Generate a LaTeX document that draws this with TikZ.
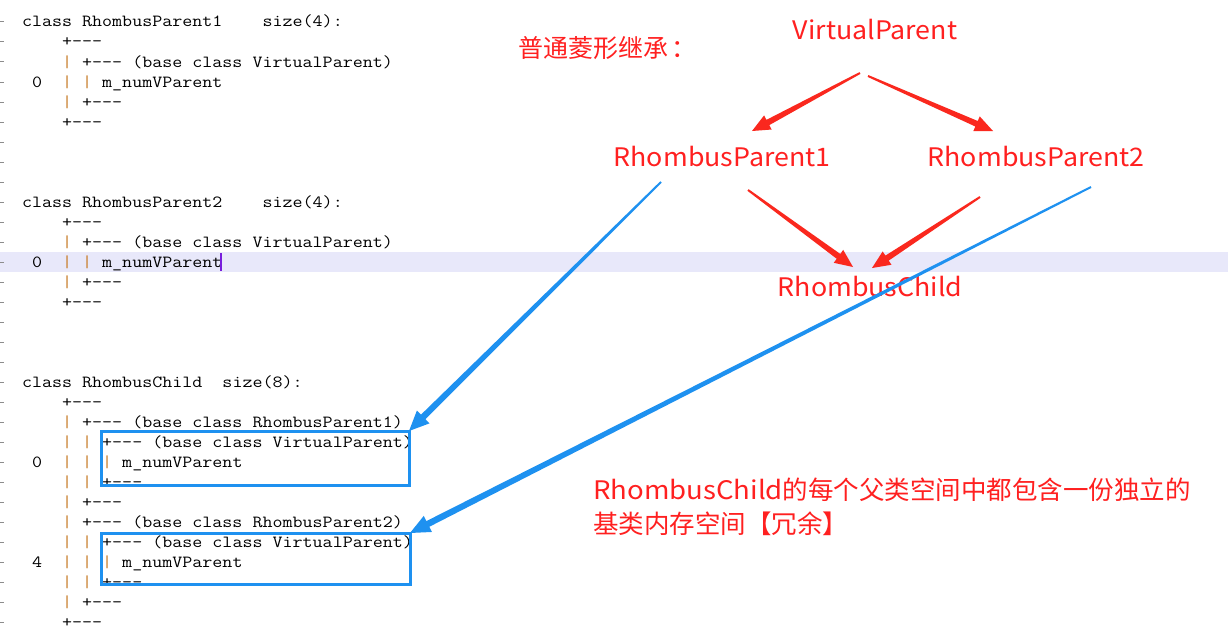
\documentclass[tikz,border=0pt]{standalone}
\usepackage{fontspec}
\newfontfamily\cjk{Noto Sans CJK SC}
\usetikzlibrary{calc}
\definecolor{redc}{RGB}{255,32,32}
\definecolor{arrred}{RGB}{250,40,30}
\definecolor{bluec}{RGB}{30,145,240}
\definecolor{barc}{RGB}{200,125,40}
\definecolor{hlc}{RGB}{232,232,250}
\definecolor{tickc}{RGB}{140,140,140}
\definecolor{curc}{RGB}{120,30,220}
\newcommand\Bar{\textcolor{barc}{|}}
\newcommand\Lat[1]{\scalebox{1.05}[1]{#1}}
\newcommand\taper[7]{%
  \path ($(#2)!#6!(#1)$) coordinate (tpH);
  \fill[#3] ($(#1)!#4!90:(#2)$) -- ($(tpH)!#5!90:(#2)$) -- ($(tpH)!#7!90:(#2)$) -- (#2)
    -- ($(tpH)!#7!-90:(#2)$) -- ($(tpH)!#5!-90:(#2)$) -- ($(#1)!#4!-90:(#2)$) -- cycle;
}
\tikzset{
  code/.style={anchor=base west, inner sep=0pt, outer sep=0pt, font=\ttfamily\fontsize{17}{17}\selectfont},
  lab/.style={text=redc, inner sep=0pt, font=\cjk\fontsize{25.5}{25.5}\selectfont},
  bluebox/.style={draw=bluec, line width=3pt, inner sep=0pt, outer sep=0pt, anchor=north west},
  tickmark/.style={draw=tickc, line width=1pt}
}
\newcommand\cl[3]{\node[code] (#1) at (22,{27+20*#2}) {\scalebox{1.145}[1]{#3}};}
\begin{document}
\begin{tikzpicture}[x=1pt,y=-1pt]
\useasboundingbox (0,0) rectangle (1228,642);
\fill[white] (0,0) rectangle (1228,642);
% highlighted line
\fill[hlc] (0,252) rectangle (1228,272);
% left margin ticks
\foreach \k in {0,...,30} \draw[tickmark] (0,{22+20*\k}) -- (3.5,{22+20*\k});
% code block 1
\cl{a0}{0}{class~RhombusParent1~~~~size(4):}
\cl{a1}{1}{~~~~+---}
\cl{a2}{2}{~~~~\Bar~+---~(base~class~VirtualParent)}
\cl{a3}{3}{~0~~\Bar~\Bar~m\_numVParent}
\cl{a4}{4}{~~~~\Bar~+---}
\cl{a5}{5}{~~~~+---}
% code block 2
\cl{b0}{9}{class~RhombusParent2~~~~size(4):}
\cl{b1}{10}{~~~~+---}
\cl{b2}{11}{~~~~\Bar~+---~(base~class~VirtualParent)}
\cl{b3}{12}{~0~~\Bar~\Bar~m\_numVParent}
\cl{b4}{13}{~~~~\Bar~+---}
\cl{b5}{14}{~~~~+---}
\draw[curc, line width=1.5pt] (221,253) -- (221,271);
% code block 3
\cl{c0}{18}{class~RhombusChild~~size(8):}
\cl{c1}{19}{~~~~+---}
\cl{c2}{20}{~~~~\Bar~+---~(base~class~RhombusParent1)}
\cl{c3}{21}{~~~~\Bar~\Bar~+---~(base~class~VirtualParent)}
\cl{c4}{22}{~0~~\Bar~\Bar~\Bar~m\_numVParent}
\cl{c5}{23}{~~~~\Bar~\Bar~+---}
\cl{c6}{24}{~~~~\Bar~+---}
\cl{c7}{25}{~~~~\Bar~+---~(base~class~RhombusParent2)}
\cl{c8}{26}{~~~~\Bar~\Bar~+---~(base~class~VirtualParent)}
\cl{c9}{27}{~4~~\Bar~\Bar~\Bar~m\_numVParent}
\cl{c10}{28}{~~~~\Bar~\Bar~+---}
\cl{c11}{29}{~~~~\Bar~+---}
\cl{c12}{30}{~~~~+---}
% blue boxes
\node[bluebox, minimum width=308pt, minimum height=54pt] (box1) at (101,431) {};
\node[bluebox, minimum width=309pt, minimum height=51pt] (box2) at (101,533) {};
% red diagram
\node[lab, anchor=west, font=\cjk\fontsize{25}{25}\selectfont] (title) at (518,48) {普通菱形继承\hspace{3pt}：};
\node[lab] (vp) at (875,30) {\Lat{VirtualParent}};
\node[lab] (rp1) at (722,157) {\Lat{RhombusParent1}};
\node[lab] (rp2) at (1036,157) {\Lat{RhombusParent2}};
\node[lab] (rc) at (870,287) {\Lat{RhombusChild}};
\node[lab, anchor=north west, align=left, font=\cjk\fontsize{25.5}{34}\selectfont] (note) at (593,478)
  {\scalebox{1.08}[1]{RhombusChild}的每个父类空间中都包含一份独立的\\基类内存空间【冗余】};
% arrow end points
\coordinate (r1s) at (860,73);  \coordinate (r1e) at (752,131);
\coordinate (r2s) at (868,76);  \coordinate (r2e) at (993,131);
\coordinate (r3s) at (748,190); \coordinate (r3e) at (853,267);
\coordinate (r4s) at (980,197); \coordinate (r4e) at (872,268);
\coordinate (b1s) at (661,182);
\coordinate (b2s) at (1091,187);
\taper{r1s}{r1e}{arrred}{1pt}{3pt}{18pt}{8pt}
\taper{r2s}{r2e}{arrred}{1pt}{3pt}{18pt}{8pt}
\taper{r3s}{r3e}{arrred}{1pt}{3pt}{18pt}{8pt}
\taper{r4s}{r4e}{arrred}{1pt}{3pt}{18pt}{8pt}
\taper{b1s}{box1.north east}{bluec}{1pt}{3.2pt}{20pt}{9pt}
\taper{b2s}{box2.north east}{bluec}{1pt}{3.2pt}{20pt}{9pt}
\end{tikzpicture}
\end{document}
